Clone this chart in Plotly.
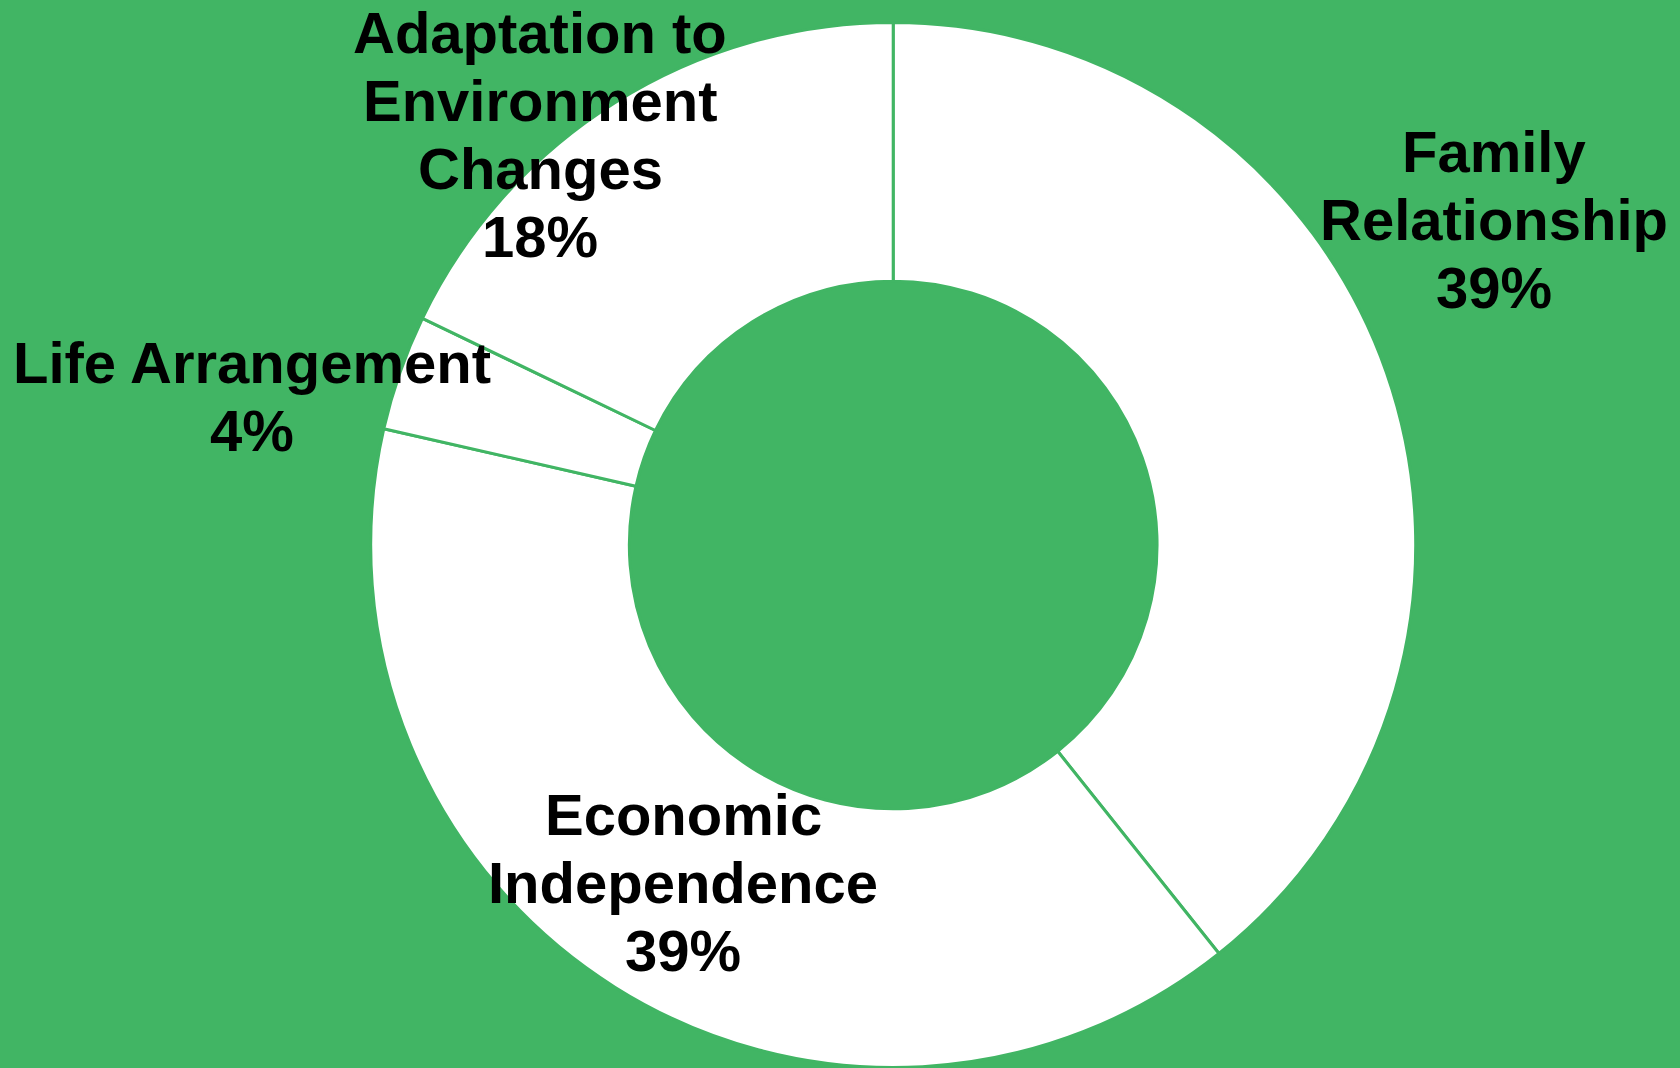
import plotly.graph_objects as go

# ---- data ----
categories = ["Family Relationship", "Economic Independence", "Life Arrangement",
              "Adaptation to Environment Changes"]
label_lines = [["Family", "Relationship"], ["Economic", "Independence"],
               ["Life Arrangement"], ["Adaptation to", "Environment", "Changes"]]
counts = [11, 11, 1, 5]

# ---- layout / style ----
W, H = 1680, 1068
BG = "#41B564"
FONT_SIZE = 58
LINE_GAP = 68
# label block: (center x px, first baseline y px)
label_anchor = [(1494, 172), (683, 835), (252, 383), (540, 53)]

total = sum(counts)
pcts = [f"{round(c / total * 100)}%" for c in counts]

fig = go.Figure(go.Pie(
    labels=categories,
    values=counts,
    hole=0.505,
    sort=False,
    direction="clockwise",
    rotation=0,
    textinfo="none",
    hoverinfo="label+percent",
    marker=dict(colors=["white"] * len(counts), line=dict(color=BG, width=3)),
    domain=dict(x=[(893.2 - 522.5) / W, (893.2 + 522.5) / W],
                y=[(523 - 522.5) / H, (523 + 522.5) / H]),
    showlegend=False,
))

annotations = []
for lines, pct, (cx, by) in zip(label_lines, pcts, label_anchor):
    for i, t in enumerate(lines + [pct]):
        baseline = by + i * LINE_GAP
        mid = baseline - 0.3465 * FONT_SIZE
        annotations.append(dict(
            text=t, x=cx / W, y=1 - mid / H, xref="paper", yref="paper",
            xanchor="center", yanchor="middle", showarrow=False,
            font=dict(family="Liberation Sans, Arial, sans-serif", size=FONT_SIZE,
                      color="black", weight="bold"),
        ))

fig.update_layout(
    width=W, height=H,
    margin=dict(l=0, r=0, t=0, b=0),
    paper_bgcolor=BG, plot_bgcolor=BG,
    annotations=annotations,
)

fig.write_html(
    "out.html",
    config={"displayModeBar": False},
    post_script="document.body.style.margin='0';document.body.style.padding='0';"
                "document.body.style.background='" + BG + "';",
)
